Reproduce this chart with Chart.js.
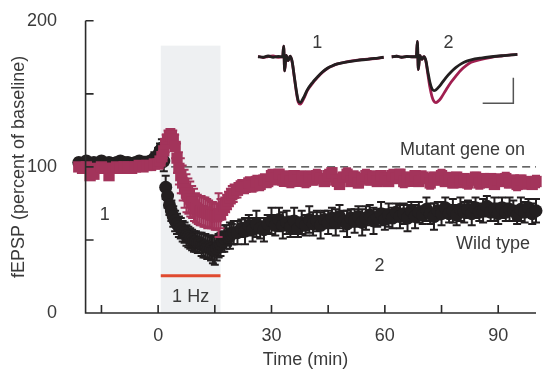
<!DOCTYPE html>
<html>
<head>
<meta charset="utf-8">
<script src="https://cdn.jsdelivr.net/npm/chart.js@4.4.1/dist/chart.umd.min.js"></script>
<style>
  html, body { margin: 0; padding: 0; background: #fff; }
  #wrap { width: 544px; height: 371px; }
</style>
</head>
<body>
<div id="wrap"><canvas id="ltpChart" width="544" height="371"></canvas></div>
<script>
// time of each sample (min); denser sampling during and after the 1 Hz train
const minutes = [
  -21,-20,-19,-18,-17,-16,-15,-14,-13,-12,-11,-10,-9,-8,-7,-6,-5,-4,-3,-2,-1,
  0,0.5,1,1.5,2,2.5,3,3.5,4,4.5,5,5.5,6,6.5,7,7.5,8,8.5,9,9.5,10,
  10.5,11,11.5,12,12.5,13,13.5,14,14.5,15,15.5,16,16.5,17,17.5,18,18.5,19,19.5,20,
  21,22,23,24,25,26,27,28,29,30,31,32,33,34,35,36,37,38,39,40,
  41,42,43,44,45,46,47,48,49,50,51,52,53,54,55,56,57,58,59,60,
  61,62,63,64,65,66,67,68,69,70,71,72,73,74,75,76,77,78,79,80,
  81,82,83,84,85,86,87,88,89,90,91,92,93,94,95,96,97,98,99,100
];

// fEPSP, percent of baseline
const wildType = [
  103,102,104,102,103,102,104,102,103,102,103,104,103,103,102,103,104,102,103,104,106,
  108,111,113,104,86,80,74,70,66,63,61,59,58,56,55,53,52,51,50,49,49,
  48,48,47,46,46,45,45,44,43,43,44,46,47,49,51,52,52,53,54,55,
  55,58,56,60,57,61,58,57,61,63,60,64,60,62,59,63,58,62,60,64,
  61,63,60,64,62,65,62,66,63,61,65,63,66,62,65,67,63,65,68,64,
  67,65,69,66,68,65,70,66,69,67,71,68,66,70,68,72,68,70,67,71,
  69,71,68,72,69,70,73,69,71,68,72,69,71,70,67,71,69,72,68,70
];
const wildTypeErr = [
  3,3,3,3,3,4,3,3,3,4,3,3,3,3,4,3,3,3,4,3,4,
  5,5,6,7,8,8,7,7,7,7,7,7,7,7,7,7,7,7,7,7,7,
  7,7,8,8,8,8,8,8,9,10,8,8,8,7,9,8,6,9,7,8,
  8,6,9,7,8,9,7,8,6,9,7,8,9,8,7,9,6,8,7,9,
  8,7,9,6,8,7,9,8,7,9,6,8,7,9,8,7,9,6,8,7,
  8,7,6,8,7,9,6,8,7,6,8,7,9,6,8,7,6,8,7,8,
  7,6,8,7,6,8,7,6,8,7,7,6,8,7,6,8,7,6,7,8
];
const mutant = [
  100,99,100,94,95,99,100,99,94,99,100,99,100,100,99,100,101,100,101,101,102,
  102,104,107,111,116,119,121,121,119,114,106,99,94,89,85,82,80,78,76,74,72,
  71,70,70,69,69,68,68,67,67,66,66,67,68,71,73,75,77,79,81,82,
  84,87,86,89,87,90,88,91,90,94,92,95,91,93,90,94,91,93,90,93,
  91,94,92,90,94,96,91,88,93,95,90,93,89,92,94,91,93,90,94,92,
  90,94,92,95,90,93,91,94,90,93,92,89,93,91,94,90,92,89,93,90,
  92,89,91,93,89,92,90,92,88,91,90,92,89,91,88,91,89,90,88,90
];
const mutantErr = [
  2,2,2,2,2,2,2,2,2,2,2,2,2,2,2,2,2,2,2,2,2,
  3,3,4,5,6,6,5,5,6,8,10,11,12,12,13,13,12,12,11,11,10,
  10,10,10,10,10,10,9,9,9,9,9,15,10,7,6,6,6,6,6,6,
  5,4,4,4,4,4,4,4,4,4,4,3,4,4,4,3,4,4,4,4,
  3,4,3,3,4,3,4,3,3,4,3,4,3,3,4,3,4,3,3,4,
  3,4,3,3,4,3,4,3,3,4,3,4,3,3,4,3,4,3,3,4,
  3,4,3,3,4,3,4,3,3,4,3,4,3,3,4,3,4,3,3,4
];

// axis ticks
const xTicks = [-15, 0, 15, 30, 45, 60, 75, 90];
const xLabels = [0, 30, 60, 90];
const yTicks = [0, 50, 100, 150, 200];
const yLabels = [0, 100, 200];

// 1 Hz stimulation window (min)
const stimStart = 0.7;
const stimEnd = 16.5;

// example traces (ms, mV); trace 2 drawn to the right of trace 1
const traceTime = [0,1,2,3,4,4.9,5.1,5.3,5.6,6,6.4,6.8,7.2,7.6,8,8.4,8.8,9.2,9.8,10.8,11.8,12.8,13.8,14.8,15.8,17.8,19.8,21.8,23.8,25];
const trace1Wild   = [0,-0.02,0.03,-0.02,0.01,0,0.42,-0.55,0.05,-0.15,0.02,-0.2,-0.75,-1.3,-1.72,-1.8,-1.7,-1.55,-1.3,-1.02,-0.8,-0.6,-0.45,-0.35,-0.28,-0.2,-0.14,-0.1,-0.05,-0.02];
const trace1Mutant = [0.02,-0.03,0.01,0.03,-0.02,0,0.42,-0.55,0.05,-0.15,0.02,-0.22,-0.78,-1.35,-1.78,-1.86,-1.76,-1.6,-1.33,-1.05,-0.82,-0.62,-0.46,-0.36,-0.28,-0.19,-0.13,-0.09,-0.06,-0.02];
const trace2Wild   = [0,0.02,-0.02,0.01,0,0,0.6,-0.5,0.05,-0.1,0,-0.15,-0.6,-1.0,-1.25,-1.33,-1.3,-1.22,-1.08,-0.82,-0.6,-0.42,-0.28,-0.18,-0.12,-0.05,0,0.04,0.07,0.09];
const trace2Mutant = [0,0.02,-0.02,0.01,0,0,0.6,-0.5,0.05,-0.1,0,-0.18,-0.7,-1.2,-1.55,-1.75,-1.8,-1.75,-1.62,-1.3,-1.0,-0.75,-0.52,-0.35,-0.22,-0.1,-0.02,0.03,0.07,0.09];
const trace2Offset = 26.6;
const scaleBarMs = [44.7, 50.8, 50.8];
const scaleBarMv = [-1.82, -1.82, -0.82];

const WILD = '#231f20';
const MUT = '#a3345b';
const TRACE_MUT = '#a01f50';
const TEXT = '#3a3a3a';
const FONT = "'Liberation Sans', Arial, sans-serif";

const pts = (xs, ys, dx = 0) => ys.map((v, i) => ({ x: xs[i] + dx, y: v }));

// draws error bars under each dataset's markers
const errorBars = {
  id: 'errorBars',
  beforeDatasetDraw(chart, args) {
    const ds = chart.data.datasets[args.index];
    if (!ds.errors) return;
    const { ctx } = chart;
    const y = chart.scales.y;
    ctx.save();
    ctx.strokeStyle = ds.errorColor;
    ctx.lineWidth = 2;
    args.meta.data.forEach((pt, i) => {
      const v = ds.data[i].y, e = ds.errors[i];
      const top = y.getPixelForValue(v + e), bot = y.getPixelForValue(v - e);
      ctx.beginPath();
      ctx.moveTo(pt.x, top); ctx.lineTo(pt.x, bot);
      ctx.moveTo(pt.x - 4, top); ctx.lineTo(pt.x + 4, top);
      ctx.moveTo(pt.x - 4, bot); ctx.lineTo(pt.x + 4, bot);
      ctx.stroke();
    });
    ctx.restore();
  }
};

// stimulation window, baseline reference
const backdrop = {
  id: 'backdrop',
  beforeDatasetsDraw(chart) {
    const { ctx, scales: { x, y } } = chart;
    const x0 = x.getPixelForValue(stimStart), x1 = x.getPixelForValue(stimEnd);
    ctx.save();
    ctx.fillStyle = '#eef0f2';
    ctx.fillRect(x0, y.getPixelForValue(183), x1 - x0, y.getPixelForValue(0) - y.getPixelForValue(183));

    ctx.strokeStyle = '#e04a2f';
    ctx.lineWidth = 3;
    ctx.beginPath();
    ctx.moveTo(x0, y.getPixelForValue(25.5));
    ctx.lineTo(x1, y.getPixelForValue(25.5));
    ctx.stroke();

    ctx.fillStyle = TEXT;
    ctx.font = '18px ' + FONT;
    ctx.textAlign = 'center';
    ctx.textBaseline = 'middle';
    ctx.fillText('1 Hz', x.getPixelForValue(8.6), y.getPixelForValue(10.7));

    ctx.strokeStyle = '#333';
    ctx.lineWidth = 1.3;
    ctx.setLineDash([8, 5]);
    ctx.beginPath();
    ctx.moveTo(x.getPixelForValue(0), y.getPixelForValue(100));
    ctx.lineTo(x.getPixelForValue(100), y.getPixelForValue(100));
    ctx.stroke();
    ctx.restore();
  }
};

// axes with inward ticks, text labels
const overlay = {
  id: 'overlay',
  afterDatasetsDraw(chart) {
    const { ctx, scales: { x, y, xi, yi } } = chart;
    const ax = x.getPixelForValue(-19.2), ay = y.getPixelForValue(0);
    ctx.save();
    ctx.strokeStyle = '#2b2b2b';
    ctx.lineWidth = 1.6;
    ctx.beginPath();
    ctx.moveTo(ax, y.getPixelForValue(200)); ctx.lineTo(ax, ay);
    ctx.lineTo(x.getPixelForValue(100), ay);
    xTicks.forEach(v => { const px = x.getPixelForValue(v); ctx.moveTo(px, ay); ctx.lineTo(px, ay - 8); });
    yTicks.forEach(v => { const py = y.getPixelForValue(v); ctx.moveTo(ax, py); ctx.lineTo(ax + 8, py); });
    ctx.stroke();

    ctx.fillStyle = TEXT;
    ctx.font = '18px ' + FONT;
    ctx.textBaseline = 'middle';
    ctx.textAlign = 'right';
    ctx.fillText('Mutant gene on', x.getPixelForValue(97.1), y.getPixelForValue(111.4));
    ctx.fillText('Wild type', x.getPixelForValue(98.4), y.getPixelForValue(47));
    ctx.textAlign = 'center';
    ctx.fillText('1', x.getPixelForValue(-14.1), y.getPixelForValue(67));
    ctx.fillText('2', x.getPixelForValue(58.6), y.getPixelForValue(32.2));
    ctx.fillText('1', xi.getPixelForValue(11.8), yi.getPixelForValue(0.53));
    ctx.fillText('2', xi.getPixelForValue(37.9), yi.getPixelForValue(0.53));
    ctx.restore();
  }
};

const traceSet = (data, color) => ({
  type: 'line', data, xAxisID: 'xi', yAxisID: 'yi', borderColor: color,
  borderWidth: 2.8, pointRadius: 0, cubicInterpolationMode: 'monotone', order: 0
});

new Chart(document.getElementById('ltpChart'), {
  type: 'scatter',
  data: {
    datasets: [
      {
        label: 'Mutant gene on', data: pts(minutes, mutant), errors: mutantErr, errorColor: MUT,
        pointStyle: 'rect', pointRadius: 8, backgroundColor: MUT, borderWidth: 0, clip: false, order: 1
      },
      {
        label: 'Wild type', data: pts(minutes, wildType), errors: wildTypeErr, errorColor: WILD,
        pointStyle: 'circle', pointRadius: 6.5, backgroundColor: WILD, borderWidth: 0, clip: false, order: 2
      },
      traceSet(pts(traceTime, trace1Wild), WILD),
      traceSet(pts(traceTime, trace1Mutant), TRACE_MUT),
      traceSet(pts(traceTime, trace2Wild, trace2Offset), WILD),
      traceSet(pts(traceTime, trace2Mutant, trace2Offset), TRACE_MUT),
      {
        type: 'line', data: pts(scaleBarMs, scaleBarMv), xAxisID: 'xi', yAxisID: 'yi',
        borderColor: '#555', borderWidth: 1.5, pointRadius: 0, order: 0
      }
    ]
  },
  options: {
    responsive: false,
    animation: false,
    devicePixelRatio: 1,
    layout: { padding: { top: 15, right: 3, left: 0, bottom: 0 } },
    plugins: { legend: { display: false }, tooltip: { enabled: false } },
    scales: {
      x: {
        type: 'linear', min: -22, max: 100,
        afterFit: s => { s.height = 58; },
        afterBuildTicks: s => { s.ticks = xTicks.map(v => ({ value: v })); },
        grid: { display: false },
        border: { display: false },
        ticks: {
          autoSkip: false, maxRotation: 0, padding: 4, color: TEXT,
          font: { family: FONT, size: 18 },
          callback: v => xLabels.includes(v) ? String(v) : ''
        },
        title: { display: true, text: 'Time (min)', color: TEXT, font: { family: FONT, size: 18 }, padding: 0 }
      },
      y: {
        type: 'linear', min: 0, max: 200,
        afterFit: s => { s.width = 75; },
        afterBuildTicks: s => { s.ticks = yTicks.map(v => ({ value: v })); },
        grid: { display: false },
        border: { display: false },
        ticks: {
          autoSkip: false, padding: 10, color: TEXT,
          font: { family: FONT, size: 18 },
          callback: v => yLabels.includes(v) ? String(v) : ''
        },
        title: { display: true, text: 'fEPSP (percent of baseline)', color: TEXT, font: { family: FONT, size: 18 }, padding: { top: 8, bottom: 0 } }
      },
      xi: { type: 'linear', display: false, min: -36.42, max: 55.31 },
      yi: { type: 'linear', display: false, min: -10.05, max: 1.41 }
    }
  },
  plugins: [errorBars, backdrop, overlay]
});
</script>
</body>
</html>
